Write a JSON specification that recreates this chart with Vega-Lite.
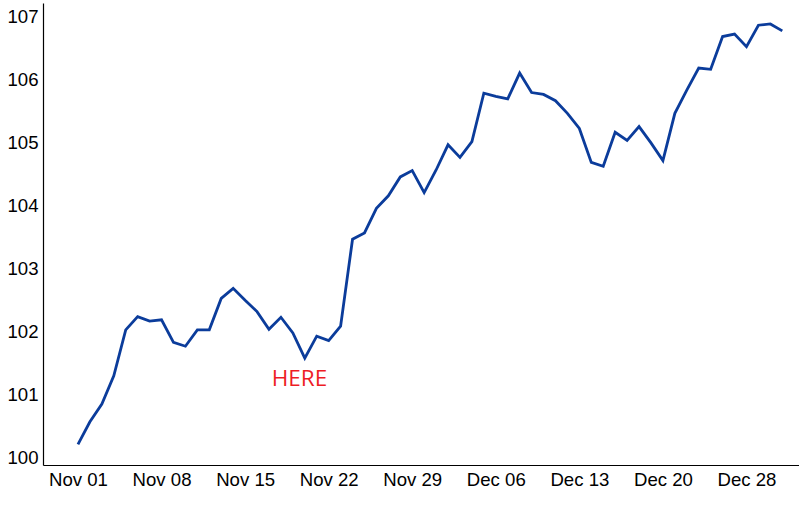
{
  "$schema": "https://vega.github.io/schema/vega-lite/v6.json",
  "width": 756,
  "height": 462,
  "autosize": {"type": "none"},
  "padding": {"left": 43, "top": 3, "right": 0, "bottom": 43},
  "background": "white",
  "config": {"view": {"stroke": null}, "font": "Liberation Sans"},
  "datasets": {
    "series": [
      {"i": 0, "date": "2021-11-01", "value": 100.20},
      {"i": 1, "date": "2021-11-02", "value": 100.56},
      {"i": 2, "date": "2021-11-03", "value": 100.84},
      {"i": 3, "date": "2021-11-04", "value": 101.29},
      {"i": 4, "date": "2021-11-05", "value": 102.02},
      {"i": 5, "date": "2021-11-06", "value": 102.23},
      {"i": 6, "date": "2021-11-07", "value": 102.16},
      {"i": 7, "date": "2021-11-08", "value": 102.18},
      {"i": 8, "date": "2021-11-09", "value": 101.82},
      {"i": 9, "date": "2021-11-10", "value": 101.76},
      {"i": 10, "date": "2021-11-11", "value": 102.02},
      {"i": 11, "date": "2021-11-12", "value": 102.02},
      {"i": 12, "date": "2021-11-13", "value": 102.52},
      {"i": 13, "date": "2021-11-14", "value": 102.68},
      {"i": 14, "date": "2021-11-15", "value": 102.49},
      {"i": 15, "date": "2021-11-16", "value": 102.31},
      {"i": 16, "date": "2021-11-17", "value": 102.03},
      {"i": 17, "date": "2021-11-18", "value": 102.22},
      {"i": 18, "date": "2021-11-19", "value": 101.97},
      {"i": 19, "date": "2021-11-20", "value": 101.57},
      {"i": 20, "date": "2021-11-21", "value": 101.92},
      {"i": 21, "date": "2021-11-22", "value": 101.85},
      {"i": 22, "date": "2021-11-23", "value": 102.08},
      {"i": 23, "date": "2021-11-24", "value": 103.46},
      {"i": 24, "date": "2021-11-25", "value": 103.56},
      {"i": 25, "date": "2021-11-26", "value": 103.95},
      {"i": 26, "date": "2021-11-27", "value": 104.15},
      {"i": 27, "date": "2021-11-28", "value": 104.45},
      {"i": 28, "date": "2021-11-29", "value": 104.55},
      {"i": 29, "date": "2021-11-30", "value": 104.20},
      {"i": 30, "date": "2021-12-01", "value": 104.56},
      {"i": 31, "date": "2021-12-02", "value": 104.96},
      {"i": 32, "date": "2021-12-03", "value": 104.76},
      {"i": 33, "date": "2021-12-04", "value": 105.01},
      {"i": 34, "date": "2021-12-05", "value": 105.78},
      {"i": 35, "date": "2021-12-06", "value": 105.73},
      {"i": 36, "date": "2021-12-07", "value": 105.69},
      {"i": 37, "date": "2021-12-08", "value": 106.10},
      {"i": 38, "date": "2021-12-09", "value": 105.79},
      {"i": 39, "date": "2021-12-10", "value": 105.76},
      {"i": 40, "date": "2021-12-11", "value": 105.66},
      {"i": 41, "date": "2021-12-12", "value": 105.46},
      {"i": 42, "date": "2021-12-13", "value": 105.22},
      {"i": 43, "date": "2021-12-14", "value": 104.68},
      {"i": 44, "date": "2021-12-15", "value": 104.62},
      {"i": 45, "date": "2021-12-16", "value": 105.16},
      {"i": 46, "date": "2021-12-17", "value": 105.03},
      {"i": 47, "date": "2021-12-18", "value": 105.25},
      {"i": 48, "date": "2021-12-19", "value": 104.99},
      {"i": 49, "date": "2021-12-20", "value": 104.71},
      {"i": 50, "date": "2021-12-21", "value": 105.46},
      {"i": 51, "date": "2021-12-22", "value": 105.83},
      {"i": 52, "date": "2021-12-23", "value": 106.18},
      {"i": 53, "date": "2021-12-24", "value": 106.16},
      {"i": 54, "date": "2021-12-26", "value": 106.68},
      {"i": 55, "date": "2021-12-27", "value": 106.72},
      {"i": 56, "date": "2021-12-28", "value": 106.52},
      {"i": 57, "date": "2021-12-29", "value": 106.86},
      {"i": 58, "date": "2021-12-30", "value": 106.88},
      {"i": 59, "date": "2021-12-31", "value": 106.77}
    ],
    "note": [{"i": 18.55, "value": 101.24, "label": "HERE"}]
  },
  "encoding": {
    "x": {
      "field": "i",
      "type": "quantitative",
      "scale": {"domain": [-2.93, 60.4], "nice": false, "zero": false},
      "axis": {
        "title": null,
        "values": [0, 7, 14, 21, 28, 35, 42, 49, 56],
        "labelExpr": "['Nov 01','Nov 08','Nov 15','Nov 22','Nov 29','Dec 06','Dec 13','Dec 20','Dec 28'][round(datum.value/7)]",
        "grid": false,
        "ticks": false,
        "labelFontSize": 18.6,
        "labelColor": "black",
        "labelPadding": 5,
        "domainColor": "black",
        "domainWidth": 1.2
      }
    },
    "y": {
      "field": "value",
      "type": "quantitative",
      "scale": {"domain": [99.873, 107.213], "nice": false, "zero": false},
      "axis": {
        "title": null,
        "values": [100, 101, 102, 103, 104, 105, 106, 107],
        "grid": false,
        "ticks": false,
        "labelFontSize": 18.6,
        "labelColor": "black",
        "labelPadding": 5,
        "domainColor": "black",
        "domainWidth": 1.2
      }
    }
  },
  "layer": [
    {
      "data": {"name": "series"},
      "mark": {"type": "line", "color": "#0b3c9b", "strokeWidth": 2.8}
    },
    {
      "data": {"name": "note"},
      "mark": {"type": "text", "color": "#ee1c25", "font": "Open Sans", "fontSize": 22.5, "baseline": "middle", "align": "center"},
      "encoding": {"text": {"field": "label"}}
    }
  ]
}
